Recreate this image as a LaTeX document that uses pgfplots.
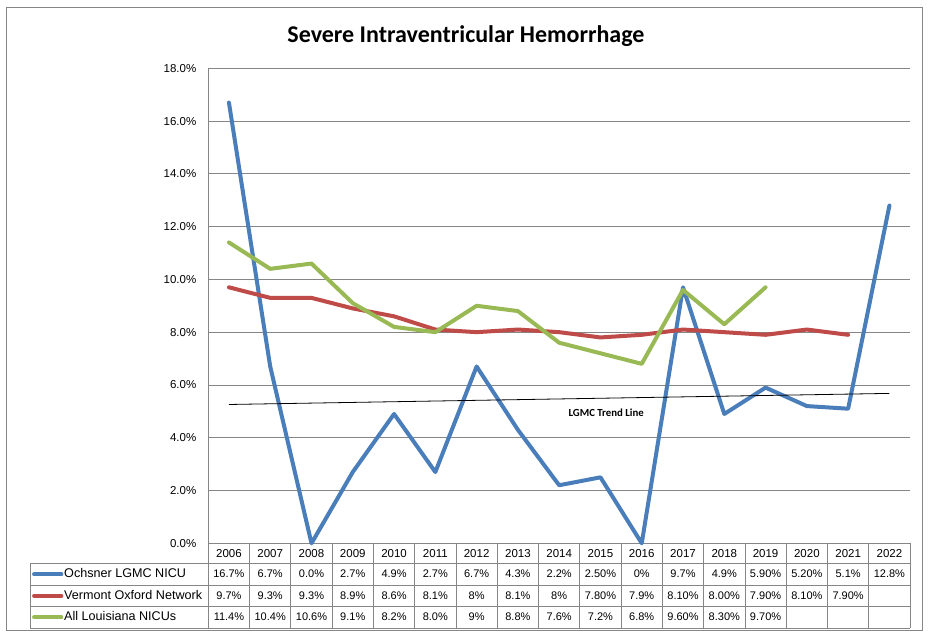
\documentclass[border=0pt]{standalone}
\usepackage{fontspec}
\setmainfont{Liberation Sans}
\newfontfamily\calibri{Carlito}
\usepackage{pgfplots}
\pgfplotsset{compat=1.18}
\definecolor{cblue}{HTML}{4A7EBB}
\definecolor{cred}{HTML}{BE4B48}
\definecolor{cgreen}{HTML}{98B954}
\definecolor{gridgray}{HTML}{868686}
\newcommand\cell[3]{\node[cellstyle] at (axis cs:#1,#2) {#3};}
\tikzset{cellstyle/.style={font=\fontsize{11}{13}\selectfont, inner sep=0pt, text height=0.72em, text depth=0pt, anchor=center}}
\begin{document}
\begin{tikzpicture}
\begin{axis}[
  x=41.28pt, y=26.39pt,
  xmin=-0.5, xmax=16.5, ymin=0, ymax=18,
  clip=false,
  axis lines*=left,
  axis line style={draw=gridgray, line width=0.8pt},
  ymajorgrids, grid style={gridgray, line width=0.8pt},
  major tick length=0pt,
  ytick={0,2,4,6,8,10,12,14,16,18},
  yticklabel={\pgfmathprintnumber[fixed,fixed zerofill,precision=1]{\tick}\%},
  /pgf/number format/assume math mode=true,
  scaled y ticks=false,
  y tick label style={font=\fontsize{11.5}{13}\selectfont, xshift=-8.5pt},
  xtick={0,...,16},
  xticklabels={2006,2007,2008,2009,2010,2011,2012,2013,2014,2015,2016,2017,2018,2019,2020,2021,2022},
  x tick label style={font=\fontsize{11.5}{13}\selectfont, anchor=center, inner sep=0pt, text height=0.72em, text depth=0pt, yshift=-10.2pt},
]
% invisible extent of the whole picture
\path (axis cs:-5.546,-3.626) rectangle (axis cs:16.983,20.587);
% outer border
\draw[gridgray, line width=0.9pt] (axis cs:-5.393,-3.285) rectangle (axis cs:16.806,20.31);
% title
\node[font=\calibri\bfseries\fontsize{24}{27}\selectfont] at (axis cs:5.743,19.23) {Severe Intraventricular Hemorrhage};

\addplot[cblue, line width=4pt, line cap=round, line join=round] coordinates {
(0,16.7)(1,6.7)(2,0)(3,2.7)(4,4.9)(5,2.7)(6,6.7)(7,4.3)(8,2.2)(9,2.5)(10,0)(11,9.7)(12,4.9)(13,5.9)(14,5.2)(15,5.1)(16,12.8)};
\addplot[cred, line width=4pt, line cap=round, line join=round] coordinates {
(0,9.7)(1,9.3)(2,9.3)(3,8.9)(4,8.6)(5,8.1)(6,8.0)(7,8.1)(8,8.0)(9,7.8)(10,7.9)(11,8.1)(12,8.0)(13,7.9)(14,8.1)(15,7.9)};
\addplot[cgreen, line width=4pt, line cap=round, line join=round] coordinates {
(0,11.4)(1,10.4)(2,10.6)(3,9.1)(4,8.2)(5,8.0)(6,9.0)(7,8.8)(8,7.6)(9,7.2)(10,6.8)(11,9.6)(12,8.3)(13,9.7)};
% linear trend of the Ochsner series
\addplot[black, line width=0.8pt] coordinates {(0,5.26)(16,5.68)};
\node[font=\calibri\bfseries\fontsize{10.8}{12}\selectfont] at (axis cs:9.14,4.93) {LGMC Trend Line};

% data table grid
\pgfplotsinvokeforeach{-0.5,0.5,1.5,2.5,3.5,4.5,5.5,6.5,7.5,8.5,9.5,10.5,11.5,12.5,13.5,14.5,15.5,16.5}{
  \draw[gridgray, line width=0.8pt] (axis cs:#1,0) -- (axis cs:#1,-3.22);
}
\pgfplotsinvokeforeach{-0.758,-1.59,-2.39,-3.22}{
  \draw[gridgray, line width=0.8pt] (axis cs:-4.817,#1) -- (axis cs:16.5,#1);
}
\draw[gridgray, line width=0.8pt] (axis cs:-4.817,-0.758) -- (axis cs:-4.817,-3.22);

% row headers with legend keys
\draw[cblue, line width=4pt, line cap=round] (axis cs:-4.72,-1.174) -- (axis cs:-4.06,-1.174);
\draw[cred, line width=4pt, line cap=round] (axis cs:-4.72,-1.99) -- (axis cs:-4.06,-1.99);
\draw[cgreen, line width=4pt, line cap=round] (axis cs:-4.72,-2.805) -- (axis cs:-4.06,-2.805);
\node[cellstyle, anchor=west, font=\fontsize{12.6}{14}\selectfont] at (axis cs:-3.995,-1.174) {Ochsner LGMC NICU};
\node[cellstyle, anchor=west, font=\fontsize{12.6}{14}\selectfont] at (axis cs:-3.995,-1.99) {Vermont Oxford Network};
\node[cellstyle, anchor=west, font=\fontsize{12.6}{14}\selectfont] at (axis cs:-3.995,-2.805) {All Louisiana NICUs};

% Ochsner row
\cell{0}{-1.174}{16.7\%}\cell{1}{-1.174}{6.7\%}\cell{2}{-1.174}{0.0\%}\cell{3}{-1.174}{2.7\%}
\cell{4}{-1.174}{4.9\%}\cell{5}{-1.174}{2.7\%}\cell{6}{-1.174}{6.7\%}\cell{7}{-1.174}{4.3\%}
\cell{8}{-1.174}{2.2\%}\cell{9}{-1.174}{2.50\%}\cell{10}{-1.174}{0\%}\cell{11}{-1.174}{9.7\%}
\cell{12}{-1.174}{4.9\%}\cell{13}{-1.174}{5.90\%}\cell{14}{-1.174}{5.20\%}\cell{15}{-1.174}{5.1\%}
\cell{16}{-1.174}{12.8\%}
% Vermont row
\cell{0}{-1.99}{9.7\%}\cell{1}{-1.99}{9.3\%}\cell{2}{-1.99}{9.3\%}\cell{3}{-1.99}{8.9\%}
\cell{4}{-1.99}{8.6\%}\cell{5}{-1.99}{8.1\%}\cell{6}{-1.99}{8\%}\cell{7}{-1.99}{8.1\%}
\cell{8}{-1.99}{8\%}\cell{9}{-1.99}{7.80\%}\cell{10}{-1.99}{7.9\%}\cell{11}{-1.99}{8.10\%}
\cell{12}{-1.99}{8.00\%}\cell{13}{-1.99}{7.90\%}\cell{14}{-1.99}{8.10\%}\cell{15}{-1.99}{7.90\%}
% Louisiana row
\cell{0}{-2.805}{11.4\%}\cell{1}{-2.805}{10.4\%}\cell{2}{-2.805}{10.6\%}\cell{3}{-2.805}{9.1\%}
\cell{4}{-2.805}{8.2\%}\cell{5}{-2.805}{8.0\%}\cell{6}{-2.805}{9\%}\cell{7}{-2.805}{8.8\%}
\cell{8}{-2.805}{7.6\%}\cell{9}{-2.805}{7.2\%}\cell{10}{-2.805}{6.8\%}\cell{11}{-2.805}{9.60\%}
\cell{12}{-2.805}{8.30\%}\cell{13}{-2.805}{9.70\%}
\end{axis}
\end{tikzpicture}
\end{document}
